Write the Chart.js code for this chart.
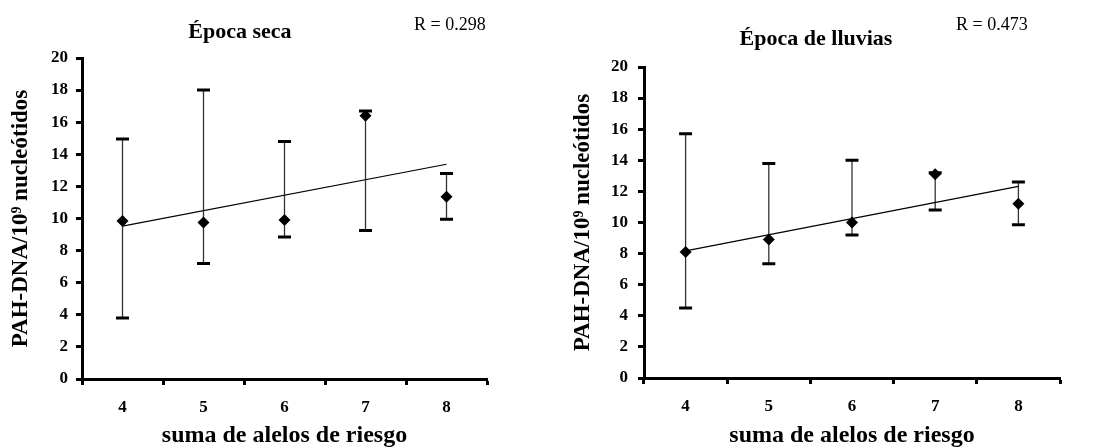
<!DOCTYPE html>
<html>
<head>
<meta charset="utf-8">
<script src="https://cdn.jsdelivr.net/npm/chart.js@4"></script>
<style>
  body { margin: 0; background: #fff; width: 1095px; height: 448px; position: relative; overflow: hidden; }
  .box { position: absolute; top: 0; }
  .ttl { position: absolute; font: bold 22px "Liberation Serif", serif; line-height: 24px; text-align: center; width: 240px; color: #000; }
  .rval { position: absolute; font: 18px "Liberation Serif", serif; line-height: 20px; color: #000; white-space: nowrap; }
</style>
</head>
<body>
<div class="box" style="left:0;width:540px;height:448px"><canvas id="chartSeca" width="540" height="448"></canvas></div>
<div class="box" style="left:548px;width:547px;height:448px"><canvas id="chartLluvias" width="547" height="448"></canvas></div>

<div class="ttl" style="left:120px;top:19px">Época seca</div>
<div class="rval" style="left:414px;top:14px">R = 0.298</div>
<div class="ttl" style="left:696px;top:26px">Época de lluvias</div>
<div class="rval" style="left:956px;top:14px">R = 0.473</div>

<script>
// data
const alelos = ["4", "5", "6", "7", "8"];
const yTicks = [0, 20, 2]; // min, max, step

// época seca
const meansSeca = [9.85, 9.75, 9.9, 16.4, 11.35];
const upperSeca = [14.95, 18.0, 14.8, 16.7, 12.8];
const lowerSeca = [3.8, 7.2, 8.85, 9.25, 9.95];
const trendSeca = [9.52, 13.38]; // regression line at 4 and 8

// época de lluvias
const meansLluvias = [8.1, 8.9, 10.0, 13.1, 11.2];
const upperLluvias = [15.7, 13.8, 14.0, 13.2, 12.6];
const lowerLluvias = [4.5, 7.35, 9.2, 10.8, 9.85];
const trendLluvias = [8.18, 12.32];

const serif = "'Liberation Serif', 'Times New Roman', serif";

// draws whiskers + caps under the points
const errorBars = {
    id: "errorBars",
    beforeDatasetsDraw(chart, args, opts) {
        const ctx = chart.ctx;
        const x = chart.scales.x;
        const y = chart.scales.y;
        ctx.save();
        opts.hi.forEach((hi, i) => {
            const px = x.getPixelForValue(i);
            const yHi = y.getPixelForValue(hi);
            const yLo = y.getPixelForValue(opts.lo[i]);
            ctx.strokeStyle = "#333";
            ctx.lineWidth = 1.3;
            ctx.beginPath();
            ctx.moveTo(px, yHi);
            ctx.lineTo(px, yLo);
            ctx.stroke();
            ctx.strokeStyle = "#000";
            ctx.lineWidth = 3;
            ctx.beginPath();
            ctx.moveTo(px - 6.5, yHi);
            ctx.lineTo(px + 6.5, yHi);
            ctx.moveTo(px - 6.5, yLo);
            ctx.lineTo(px + 6.5, yLo);
            ctx.stroke();
        });
        ctx.restore();
    }
};

function makeChart(id, means, upper, lower, trend, lay) {
    const ctx = document.getElementById(id);
    return new Chart(ctx, {
        type: "line",
        data: {
            labels: alelos,
            datasets: [
                {
                    data: means,
                    showLine: false,
                    pointStyle: "rectRot",
                    pointRadius: 6,
                    backgroundColor: "#000",
                    borderColor: "#000",
                    borderWidth: 0,
                },
                {
                    data: [
                        { x: alelos[0], y: trend[0] },
                        { x: alelos[alelos.length - 1], y: trend[1] },
                    ],
                    borderColor: "#000",
                    borderWidth: 1.2,
                    pointRadius: 0,
                },
            ],
        },
        options: {
            responsive: false,
            animation: false,
            devicePixelRatio: 1,
            layout: { padding: { top: lay.top, right: lay.right, left: 0, bottom: 0 } },
            plugins: {
                legend: { display: false },
                tooltip: { enabled: false },
                errorBars: { hi: upper, lo: lower },
            },
            scales: {
                x: {
                    type: "category",
                    offset: true,
                    afterFit: (s) => { s.height = lay.xh; },
                    grid: { offset: true, drawOnChartArea: false, tickLength: 6, tickWidth: 3, tickColor: "#000" },
                    border: { display: true, width: 3, color: "#000" },
                    ticks: { color: "#000", padding: 12, font: { family: serif, size: 17, weight: "bold" } },
                    title: {
                        display: true,
                        text: "suma de alelos de riesgo",
                        color: "#000",
                        padding: { top: -2, bottom: 0 },
                        font: { family: serif, size: 24, weight: "bold", lineHeight: 1 },
                    },
                },
                y: {
                    min: yTicks[0],
                    max: yTicks[1],
                    afterFit: (s) => { s.width = lay.yw; },
                    grid: { drawOnChartArea: false, tickLength: 6, tickWidth: 3, tickColor: "#000" },
                    border: { display: true, width: 3, color: "#000" },
                    ticks: { stepSize: yTicks[2], color: "#000", padding: lay.tp, font: { family: serif, size: 17, weight: "bold" } },
                    title: {
                        display: true,
                        text: "PAH-DNA/10⁹ nucleótidos",
                        color: "#000",
                        padding: { top: lay.tt, bottom: 0 },
                        font: { family: serif, size: 23, weight: "bold", lineHeight: 1 },
                    },
                },
            },
        },
        plugins: [errorBars],
    });
}

makeChart("chartSeca", meansSeca, upperSeca, lowerSeca, trendSeca,
    { top: 58, right: 53, xh: 69, yw: 82, tp: 8, tt: 9.5 });
makeChart("chartLluvias", meansLluvias, upperLluvias, lowerLluvias, trendLluvias,
    { top: 67, right: 35, xh: 70, yw: 96, tp: 10, tt: 23.5 });
</script>
</body>
</html>
